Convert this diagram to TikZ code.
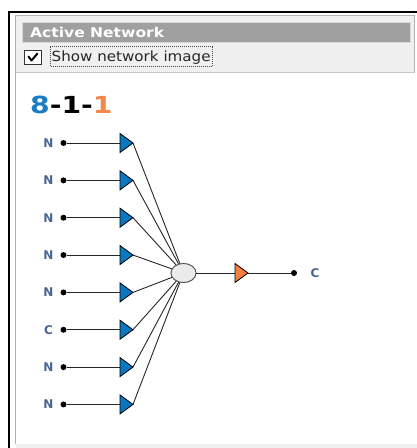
\documentclass[tikz,border=0pt]{standalone}
\usepackage{fontspec}
\setmainfont{DejaVu Sans}
\newfontfamily\hdrfont[FakeStretch=1.15]{DejaVu Sans}
\newfontfamily\chkfont[FakeStretch=1.08]{DejaVu Sans}
\newfontfamily\bigfont[FakeStretch=1.2]{DejaVu Sans}
\usetikzlibrary{shapes.geometric}
\definecolor{netblue}{HTML}{0A78C0}
\definecolor{netorange}{HTML}{F5803E}
\definecolor{numblue}{HTML}{1A7CC4}
\definecolor{numorange}{HTML}{F5874A}
\definecolor{lblcol}{HTML}{4A6690}
\definecolor{panelgray}{HTML}{F0F0F0}
\definecolor{hdrgray}{HTML}{A0A0A0}
\definecolor{hidfill}{HTML}{EBEBEB}
\tikzset{
  lbl/.style={font=\bfseries\fontsize{12}{12}\selectfont, text=lblcol, inner sep=0pt},
  dotn/.style={circle, fill=black, inner sep=0pt, minimum size=6pt},
  wire/.style={draw=black!85, line width=0.9pt},
  intri/.style={fill=netblue, draw=black, line width=0.8pt, line join=miter},
  outtri/.style={fill=netorange, draw=black, line width=0.8pt, line join=miter},
  hid/.style={ellipse, fill=hidfill, draw=black!70, line width=0.8pt, minimum width=25pt, minimum height=19pt, inner sep=0pt},
}
\begin{document}
\begin{tikzpicture}[x=1pt,y=-1pt]
\useasboundingbox (0,0) rectangle (417,448);
\fill[white] (0,0) rectangle (417,448);
% window frame
\fill[panelgray] (16,15) rectangle (415,72);
\fill[black!6] (16,443.5) rectangle (417,448);
\draw[black!30, line width=0.8pt] (15.5,444) -- (15.5,15.5) -- (414.5,15.5) -- (414.5,72);
\draw[black!22, line width=0.8pt] (16,72.5) -- (414.5,72.5);
\draw[black, line width=2pt] (9,448) -- (9,12) -- (417,12);
% header bar
\fill[hdrgray] (22,22) rectangle (410.5,42);
\draw[black!15, line width=0.6pt] (22,22) rectangle (410.5,42);
\node[anchor=base west, inner sep=0pt, text=white, font=\hdrfont\bfseries\fontsize{13.5}{14}\selectfont] (hdr) at (30,37.5) {Active Network};
% checkbox
\draw[fill=white, draw=black!80, line width=1pt] (24.5,50.5) rectangle (41.5,64.5);
\draw[line width=2pt, line cap=round, line join=round] (28.5,56.5) -- (31.5,60.5) -- (37.5,53.5);
\node[anchor=base west, inner sep=0pt, text=black!85, font=\chkfont\fontsize{14}{14}\selectfont] (chk) at (51.5,61) {Show network image};
\draw[black!70, line width=0.6pt, dash pattern=on 1pt off 1pt] (50,46.5) rectangle (212,66);
% title
\node[anchor=west, inner sep=0pt, font=\bigfont\bfseries\fontsize{23.5}{24}\selectfont] (title) at (30,105) {\textcolor{numblue}{8}-1-\textcolor{numorange}{1}};
% hidden node
\node[hid] (h) at (183.5,273) {};
% inputs
\foreach \i/\lab in {1/N,2/N,3/N,4/N,5/N,6/C,7/N,8/N} {
  \pgfmathsetmacro\yy{143+(\i-1)*37.35}
  \node[lbl] (l\i) at (48.5,\yy) {\lab};
  \node[dotn] (d\i) at (63.5,\yy) {};
  \coordinate (b\i) at (120,\yy);
  \coordinate (a\i) at (133,\yy);
  \draw[wire] (d\i) -- (b\i);
  \draw[wire] (a\i) -- (h);
  \draw[intri] (120,\yy-9.5) -- (a\i) -- (120,\yy+9.5) -- cycle;
}
\node[hid] at (h) {};
% output
\coordinate (ob) at (235,273);
\coordinate (oa) at (248,273);
\node[dotn] (od) at (294,273) {};
\node[lbl] (oc) at (315,273) {C};
\draw[wire] (h) -- (ob);
\draw[wire] (oa) -- (od);
\draw[outtri] (235,263.5) -- (oa) -- (235,282.5) -- cycle;
\end{tikzpicture}
\end{document}
